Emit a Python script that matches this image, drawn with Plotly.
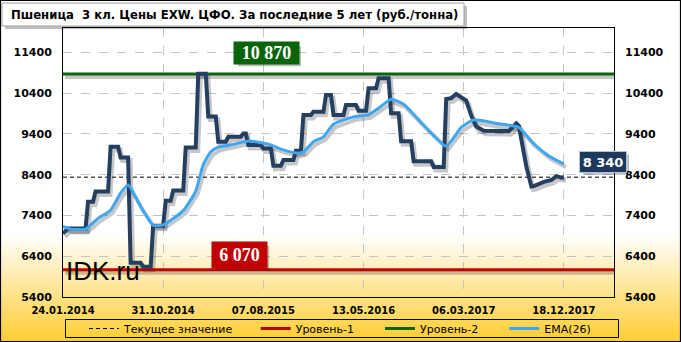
import plotly.graph_objects as go

# ---------------- data ----------------
x_tick_idx = [0, 40, 80, 120, 160, 200]
x_tick_text = ["24.01.2014", "31.10.2014", "07.08.2015", "13.05.2016", "06.03.2017", "18.12.2017"]
y_ticks = [5400, 6400, 7400, 8400, 9400, 10400, 11400]
y_tick_text = ["5400", "6400", "7400", "8400", "9400", "10400", "11400"]

price_idx = [0, 2, 9, 10, 12, 13, 18, 19, 22, 23, 26, 27, 31, 32, 35, 36, 40, 41, 43, 44,
             48, 49, 53, 54, 57, 58, 61, 62, 65, 66, 71, 72, 73, 74, 79, 80, 83, 84, 87, 88,
             92, 93, 95, 96, 99, 100, 104, 105, 107, 108, 112, 113, 117, 118, 121, 122, 125,
             126, 130, 131, 134, 135, 139, 140, 147, 148, 152, 153, 155, 157, 161, 163, 165,
             168, 178, 181, 182, 185, 187, 188, 192, 195, 197, 199, 200]
price_val = [6960, 7080, 7080, 7735, 7735, 7990, 7990, 9085, 9085, 8820, 8820, 6240, 6240, 6140,
             6140, 7150, 7150, 7760, 7760, 8010, 8010, 9070, 9070, 10880, 10880, 9830, 9830,
             9210, 9210, 9330, 9330, 9410, 9410, 9130, 9130, 9045, 9045, 8620, 8620, 8760, 8760,
             8990, 8990, 9865, 9865, 9945, 9945, 10355, 10355, 9865, 9865, 10110, 10110, 9970,
             9970, 10520, 10520, 10765, 10765, 9910, 9910, 9220, 9220, 8730, 8730, 8590, 8590,
             10260, 10280, 10380, 10220, 9850, 9580, 9480, 9470, 9660, 9600, 8600, 8110, 8120,
             8225, 8270, 8365, 8330, 8340]

ema_idx = [0, 3, 9, 14, 19, 23, 26, 31, 36, 40, 48, 53, 56, 59, 62, 68, 74, 82, 88, 94, 96,
           100, 104, 108, 116, 122, 126, 131, 136, 144, 153, 159, 164, 174, 182, 188, 194, 200]
ema_val = [7130, 7065, 7065, 7330, 7530, 7950, 8150, 7620, 7160, 7170, 7520, 8000, 8650, 8960,
           9075, 9145, 9230, 9150, 9010, 8930, 8960, 9210, 9330, 9640, 9820, 9870, 10030, 10250,
           10130, 9620, 9100, 9560, 9745, 9650, 9560, 9160, 8860, 8660]

level1 = 6070
level2 = 10870
current = 8340
x_range = [0, 220]
y_range = [5400, 12000]

title_text = "Пшеница  3 кл. Цены EXW. ЦФО. За последние 5 лет (руб./тонна)"
names = ["Текущее значение", "Уровень-1", "Уровень-2", "EMA(26)"]
name_pad = [5, 6, 6, 0]  # extra spacing after each legend entry (non-breaking spaces)

# ---------------- geometry helpers ----------------
W, H = 681, 342
ML, MR, MT, MB = 63, 67, 28, 45
PW = W - ML - MR
PH = H - MT - MB


def px(X):
    return (X - ML) / PW


def py(Y):
    return (H - MB - Y) / PH


def fmt(v):
    return f"{v:,}".replace(",", " ")


def lname(i):
    return names[i] + "\u00a0" * name_pad[i]


DX, DY = 2, 3  # shadow offset in pixels
xs = (x_range[1] - x_range[0]) / PW * DX
ys = (y_range[1] - y_range[0]) / PH * DY
x2_range = [x_range[0] - xs, x_range[1] - xs]
y2_range = [y_range[0] + ys, y_range[1] + ys]

NAVY = "#243F60"
BLUE = "#3FA6F2"
GREEN = "#0A640A"
RED = "#C00000"
SHADOW = "rgba(0,0,0,0.22)"

fig = go.Figure()

# current value dashed line (base axes)
fig.add_trace(go.Scatter(x=x_range, y=[current, current], mode="lines", name=lname(0),
                         line=dict(color="black", width=1, dash="4px,3px"), legendrank=1,
                         xaxis="x", yaxis="y", hoverinfo="skip"))

# shadows
for xx, yy, w in [(x_range, [level1] * 2, 4), (x_range, [level2] * 2, 4),
                  (price_idx, price_val, 5), (ema_idx, ema_val, 4)]:
    fig.add_trace(go.Scatter(x=xx, y=yy, mode="lines", showlegend=False, hoverinfo="skip",
                             line=dict(color=SHADOW, width=w), xaxis="x2", yaxis="y2"))

# main traces
fig.add_trace(go.Scatter(x=x_range, y=[level1, level1], mode="lines", name=lname(1),
                         line=dict(color=RED, width=3), legendrank=2, xaxis="x3", yaxis="y3"))
fig.add_trace(go.Scatter(x=x_range, y=[level2, level2], mode="lines", name=lname(2),
                         line=dict(color=GREEN, width=3), legendrank=3, xaxis="x3", yaxis="y3"))
fig.add_trace(go.Scatter(x=price_idx, y=price_val, mode="lines", showlegend=False,
                         line=dict(color=NAVY, width=4), xaxis="x3", yaxis="y3"))
fig.add_trace(go.Scatter(x=ema_idx, y=ema_val, mode="lines", name=lname(3),
                         line=dict(color=BLUE, width=3, shape="spline", smoothing=0.5),
                         legendrank=4, xaxis="x3", yaxis="y3"))

tickfont_y = dict(family="DejaVu Sans", size=11, color="black", weight="bold")
tickfont_x = dict(family="DejaVu Sans", size=10, color="black", weight="bold")

# ---------------- shapes ----------------
shapes = []
# background gradient
g0, g1 = 234, 342
n = 54
c_top = (255, 255, 255)
c_bot = (255, 205, 48)
step = (g1 - g0) / n
for i in range(n):
    t = (i + 0.5) / n
    c = tuple(round(c_top[k] + (c_bot[k] - c_top[k]) * t) for k in range(3))
    shapes.append(dict(type="rect", xref="paper", yref="paper", layer="below",
                       x0=px(0), x1=px(W), y0=py(g0 + i * step), y1=py(g0 + (i + 1) * step + 0.6),
                       fillcolor=f"rgb{c}", line=dict(width=0)))
# title box
shapes.append(dict(type="rect", xref="paper", yref="paper", layer="above",
                   x0=px(5), x1=px(467), y0=py(6), y1=py(29),
                   fillcolor="rgba(0,0,0,0.25)", line=dict(width=0)))
shapes.append(dict(type="rect", xref="paper", yref="paper", layer="above",
                   x0=px(2), x1=px(464), y0=py(3), y1=py(26),
                   fillcolor="white", line=dict(color="#A0A0A0", width=1)))
# legend box
shapes.append(dict(type="rect", xref="paper", yref="paper", layer="above",
                   x0=px(65.5), x1=px(618.5), y0=py(319.5), y1=py(337.5),
                   line=dict(color="black", width=1)))
# label shadows
for cx, cy, w, h in [(266.5, 53.3, 63, 20), (239.7, 254.7, 53, 24), (603, 161.7, 46, 20)]:
    shapes.append(dict(type="rect", xref="paper", yref="paper", layer="above",
                       x0=px(cx - w / 2 + 3), x1=px(cx + w / 2 + 3),
                       y0=py(cy - h / 2 + 3), y1=py(cy + h / 2 + 3),
                       fillcolor="rgba(0,0,0,0.25)", line=dict(width=0)))
# outer frame
shapes.append(dict(type="rect", xref="paper", yref="paper", layer="above",
                   x0=px(0.5), x1=px(W - 0.5), y0=py(0.5), y1=py(H - 0.5),
                   line=dict(color="black", width=1.2)))

# ---------------- annotations ----------------
annotations = [
    dict(text=title_text, xref="paper", yref="paper", x=px(9), y=py(14.5),
         xanchor="left", yanchor="middle", showarrow=False,
         font=dict(family="DejaVu Sans", size=11.7, color="black", weight="bold")),
    dict(text=fmt(level2), xref="paper", yref="y", x=px(266.5), y=level2, yshift=74.1 - 53.3,
         showarrow=False, bgcolor=GREEN, width=63, height=20, xanchor="center", yanchor="middle",
         font=dict(family="Liberation Serif", size=18, color="white", weight="bold")),
    dict(text=fmt(level1), xref="paper", yref="y", x=px(239.7), y=level1, yshift=269.4 - 254.7,
         showarrow=False, bgcolor=RED, width=53, height=24, xanchor="center", yanchor="middle",
         font=dict(family="Liberation Serif", size=18, color="white", weight="bold")),
    dict(text=fmt(current), xref="paper", yref="y", x=px(603), y=current, yshift=177 - 161.7,
         showarrow=False, bgcolor="#1C395C", bordercolor="#B0C4DE", borderwidth=1,
         width=44, height=18, xanchor="center", yanchor="middle",
         font=dict(family="DejaVu Sans", size=13, color="white", weight="bold")),
    dict(text="IDK.ru", xref="paper", yref="paper", x=px(64), y=py(271),
         xanchor="left", yanchor="middle", showarrow=False,
         font=dict(family="Liberation Sans", size=26, color="black")),
]

fig.update_layout(
    width=W, height=H,
    margin=dict(l=ML, r=MR, t=MT, b=MB, pad=0, autoexpand=False),
    paper_bgcolor="white",
    plot_bgcolor="rgba(0,0,0,0)",
    showlegend=True,
    legend=dict(orientation="h", x=px(84), y=py(328.5), xanchor="left", yanchor="middle",
                bgcolor="rgba(0,0,0,0)", borderwidth=0,
                font=dict(family="DejaVu Sans", size=11, color="black"),
                itemwidth=30),
    xaxis=dict(range=x_range, tickmode="array", tickvals=x_tick_idx, ticktext=x_tick_text,
               showgrid=True, gridcolor="#C4C4C4", griddash="dash", gridwidth=1,
               showline=True, linecolor="black", linewidth=1, mirror=True,
               ticks="", zeroline=False, tickfont=tickfont_x, ticklabelstandoff=4),
    yaxis=dict(range=y_range, tickmode="array", tickvals=y_ticks, ticktext=y_tick_text,
               showgrid=True, gridcolor="#C4C4C4", griddash="dash", gridwidth=1,
               showline=True, linecolor="black", linewidth=1, mirror=True,
               ticks="", zeroline=False, tickfont=tickfont_y, ticklabelstandoff=8),
    xaxis2=dict(overlaying="x", range=x2_range, visible=False),
    yaxis2=dict(overlaying="y", range=y2_range, visible=False),
    xaxis3=dict(overlaying="x", range=x_range, visible=False),
    yaxis3=dict(overlaying="y", side="right", range=y_range, tickmode="array", tickvals=y_ticks,
                ticktext=y_tick_text, showgrid=False, zeroline=False, showline=False, ticks="",
                tickfont=tickfont_y, ticklabelstandoff=10),
    shapes=shapes,
    annotations=annotations,
    hovermode=False,
)

fig.write_html("out.html")
